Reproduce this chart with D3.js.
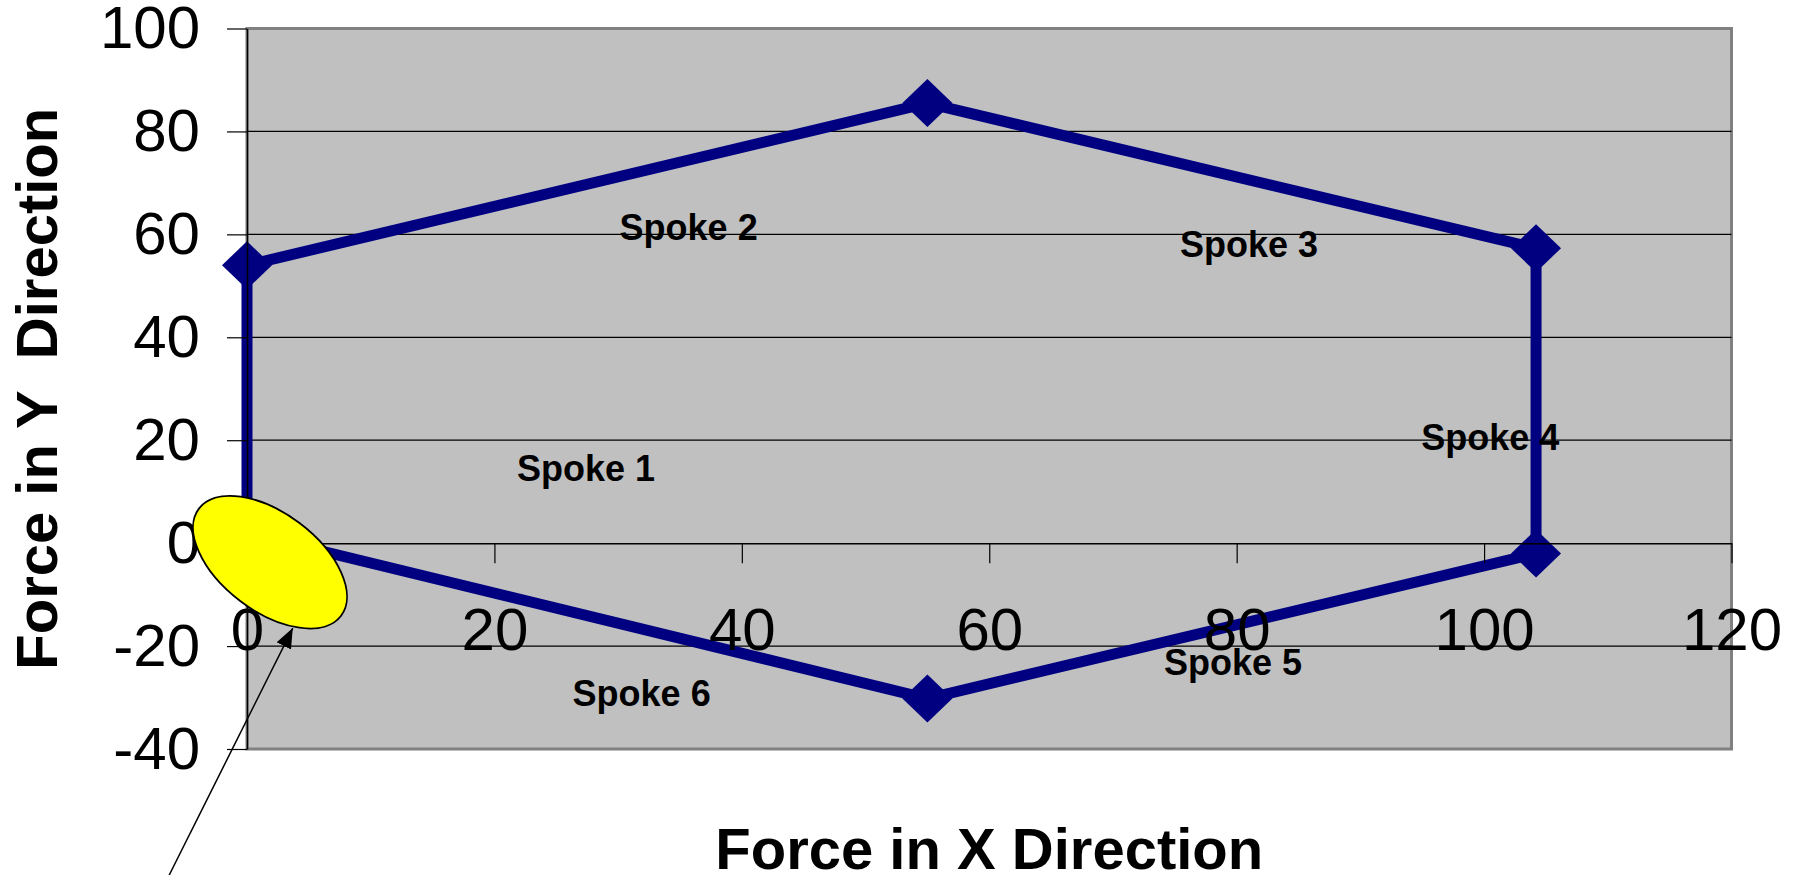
<!DOCTYPE html>
<html>
<head>
<meta charset="utf-8">
<script src="https://cdn.jsdelivr.net/npm/d3@7"></script>
<style>
    body { margin: 0; background: #fff; }
    svg { display: block; font-family: "Liberation Sans", Arial, Helvetica, sans-serif; }
</style>
</head>
<body>
<svg id="chart" width="1798" height="875"></svg>
<script>
// spoke forces, closed polygon
var forceX = [0, 0, 55, 104.2, 104.2, 55];
var forceY = [2, 54, 85.5, 57.3, -2, -30.2];

var xTicks = [0, 20, 40, 60, 80, 100, 120];
var yTicks = [-40, -20, 0, 20, 40, 60, 80, 100];
var gridValues = [-20, 20, 40, 60, 80];

var spokeNames = ["Spoke 1", "Spoke 2", "Spoke 3", "Spoke 4", "Spoke 5", "Spoke 6"];
var spokeLabelX = [27.4, 35.7, 81.0, 100.5, 79.7, 31.9];
var spokeLabelY = [14.6, 61.4, 58.1, 20.6, -23.1, -29.1];

// the yellow callout at the origin and its arrow (data units)
var calloutCenter = [1.86, -3.7];
var arrowFrom = [-6.6, -66];
var arrowTo = [3.7, -16.5];

var svg = d3.select("#chart");
var margin = {left: 247, top: 28.5, right: 66.5, bottom: 126};
var width = 1798 - margin.left - margin.right;
var height = 875 - margin.top - margin.bottom;

var x = d3.scaleLinear().domain([0, 120]).range([0, width]);
var y = d3.scaleLinear().domain([-40, 100]).range([height, 0]);

// excel style labels: plain hyphen for negatives
var plainFormat = function(d) { return String(d); };

var g = svg.append("g").attr("transform", "translate(" + margin.left + "," + margin.top + ")");

// plot area
g.append("rect")
    .attr("width", width)
    .attr("height", height)
    .attr("fill", "#c0c0c0")
    .attr("stroke", "#808080")
    .attr("stroke-width", 3);

g.selectAll(".grid")
    .data(gridValues)
    .enter()
    .append("line")
    .attr("class", "grid")
    .attr("x1", 0)
    .attr("x2", width)
    .attr("y1", function(d) { return y(d); })
    .attr("y2", function(d) { return y(d); })
    .attr("stroke", "#000")
    .attr("stroke-width", 1.2);

// the spoke polygon
var pts = forceX.map(function(v, i) { return [x(v), y(forceY[i])]; });
g.append("path")
    .attr("d", d3.line()(pts) + "Z")
    .attr("fill", "none")
    .attr("stroke", "#000080")
    .attr("stroke-width", 11)
    .attr("stroke-linejoin", "miter");

g.selectAll(".pt")
    .data(pts)
    .enter()
    .append("path")
    .attr("class", "pt")
    .attr("d", function(p) {
        return "M" + p[0] + "," + (p[1] - 24) + "L" + (p[0] + 25) + "," + p[1] +
               "L" + p[0] + "," + (p[1] + 24) + "L" + (p[0] - 25) + "," + p[1] + "Z";
    })
    .attr("fill", "#000080");

// axes
var yAxis = g.append("g")
    .call(d3.axisLeft(y).tickValues(yTicks).tickFormat(plainFormat)
        .tickSize(20).tickSizeOuter(0).tickPadding(27));

var xAxis = g.append("g")
    .attr("transform", "translate(0," + y(0) + ")")
    .call(d3.axisBottom(x).tickValues(xTicks).tickFormat(plainFormat)
        .tickSize(20).tickSizeOuter(0).tickPadding(44));

[yAxis, xAxis].forEach(function(ax) {
    ax.select(".domain").attr("stroke", "#000").attr("stroke-width", 1.5);
    ax.selectAll(".tick line").attr("stroke", "#000").attr("stroke-width", 1.2);
    ax.selectAll(".tick text")
        .attr("fill", "#000")
        .style("font-size", "60px")
        .style("font-family", "'Liberation Sans', Arial, sans-serif");
});

// spoke labels
g.selectAll(".spoke")
    .data(spokeNames)
    .enter()
    .append("text")
    .attr("class", "spoke")
    .attr("x", function(d, i) { return x(spokeLabelX[i]); })
    .attr("y", function(d, i) { return y(spokeLabelY[i]); })
    .attr("dy", "0.36em")
    .attr("text-anchor", "middle")
    .style("font-size", "36px")
    .style("font-weight", "bold")
    .text(function(d) { return d; });

// callout ellipse + arrow
g.append("ellipse")
    .attr("transform", "translate(" + x(calloutCenter[0]) + "," + y(calloutCenter[1]) + ") rotate(37)")
    .attr("rx", 89)
    .attr("ry", 49)
    .attr("fill", "#ffff00")
    .attr("stroke", "#000")
    .attr("stroke-width", 1.8);

svg.append("defs").append("marker")
    .attr("id", "arrowhead")
    .attr("viewBox", "0 0 20 16")
    .attr("refX", 20)
    .attr("refY", 8)
    .attr("markerWidth", 20)
    .attr("markerHeight", 16)
    .attr("markerUnits", "userSpaceOnUse")
    .attr("orient", "auto")
    .append("path")
    .attr("d", "M0,0L20,8L0,16Z")
    .attr("fill", "#000");

g.append("line")
    .attr("x1", x(arrowFrom[0]))
    .attr("y1", y(arrowFrom[1]))
    .attr("x2", x(arrowTo[0]))
    .attr("y2", y(arrowTo[1]))
    .attr("stroke", "#000")
    .attr("stroke-width", 1.5)
    .attr("marker-end", "url(#arrowhead)");

// axis titles
svg.append("text")
    .attr("x", margin.left + width / 2)
    .attr("y", 869)
    .attr("text-anchor", "middle")
    .style("font-size", "58px")
    .style("font-weight", "bold")
    .text("Force in X Direction");

svg.append("text")
    .attr("transform", "translate(57," + (margin.top + height / 2) + ") rotate(-90)")
    .attr("text-anchor", "middle")
    .style("font-size", "58px")
    .style("font-weight", "bold")
    .style("white-space", "pre")
    .text("Force in Y  Direction");
</script>
</body>
</html>
